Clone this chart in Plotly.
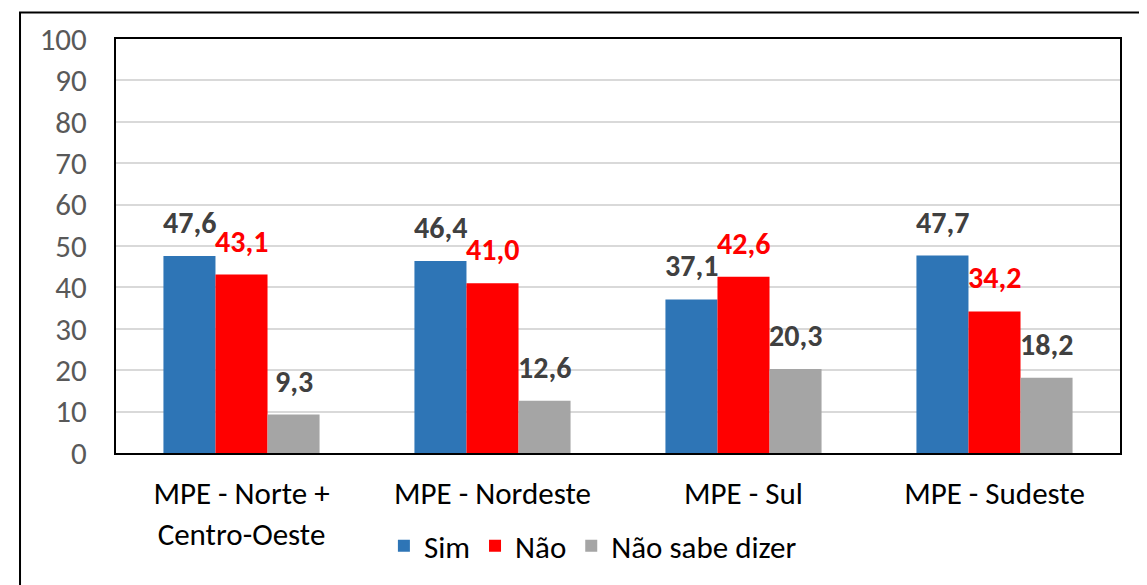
import plotly.graph_objects as go

categories = ["MPE - Norte +<br>Centro-Oeste", "MPE - Nordeste", "MPE - Sul", "MPE - Sudeste"]
series_names = ["Sim", "Não", "Não sabe dizer"]
sim = [47.6, 46.4, 37.1, 47.7]
nao = [43.1, 41.0, 42.6, 34.2]
nao_sabe = [9.3, 12.6, 20.3, 18.2]
y_ticks = list(range(0, 101, 10))

colors = ["#2E75B6", "#FF0000", "#A5A5A5"]
label_colors = ["#404040", "#FF0000", "#404040"]
FONT = "Carlito, Lato, 'Open Sans', sans-serif"

fig = go.Figure()
all_series = [sim, nao, nao_sabe]
for name, vals, col in zip(series_names, all_series, colors):
    fig.add_trace(go.Bar(x=categories, y=vals, name=name, marker=dict(color=col, line=dict(width=0))))

annotations = []
bar_px = 52
for i, (vals, lc) in enumerate(zip(all_series, label_colors)):
    for c, v in zip(categories, vals):
        annotations.append(dict(
            x=c, y=v, xref="x", yref="y", text=f"{v:.1f}".replace(".", ","),
            showarrow=False, yanchor="bottom", yshift=13, xshift=(i - 1) * bar_px,
            font=dict(family=FONT, size=30, color=lc, weight="bold"),
        ))

fig.update_layout(
    width=1147, height=585,
    margin=dict(l=108, r=35, t=27, b=140),
    paper_bgcolor="white", plot_bgcolor="white",
    barmode="group", bargap=0.378, bargroupgap=0,
    font=dict(family=FONT, size=31, color="#000000"),
    legend=dict(orientation="h", x=0.475, xanchor="center", y=-0.225, yanchor="middle",
                font=dict(size=31, color="#000000"), traceorder="normal"),
    annotations=annotations,
    shapes=[dict(type="rect", xref="paper", yref="paper", x0=-0.0956, x1=1.0219, y0=-0.4, y1=1.064,
                 line=dict(color="black", width=2), fillcolor="rgba(0,0,0,0)", layer="below")],
)
fig.update_yaxes(range=[0, 100], tickvals=y_ticks, showgrid=True, gridcolor="#D9D9D9", gridwidth=1.5,
                 tickfont=dict(size=31, color="#595959"), showline=True, linecolor="black", linewidth=2,
                 mirror=True, ticks="", ticklabelstandoff=21, zeroline=False)
fig.update_xaxes(showline=True, linecolor="black", linewidth=2, mirror=True, ticks="",
                 tickfont=dict(size=31, color="#000000"), ticklabelstandoff=12)

fig.write_html("out.html")
